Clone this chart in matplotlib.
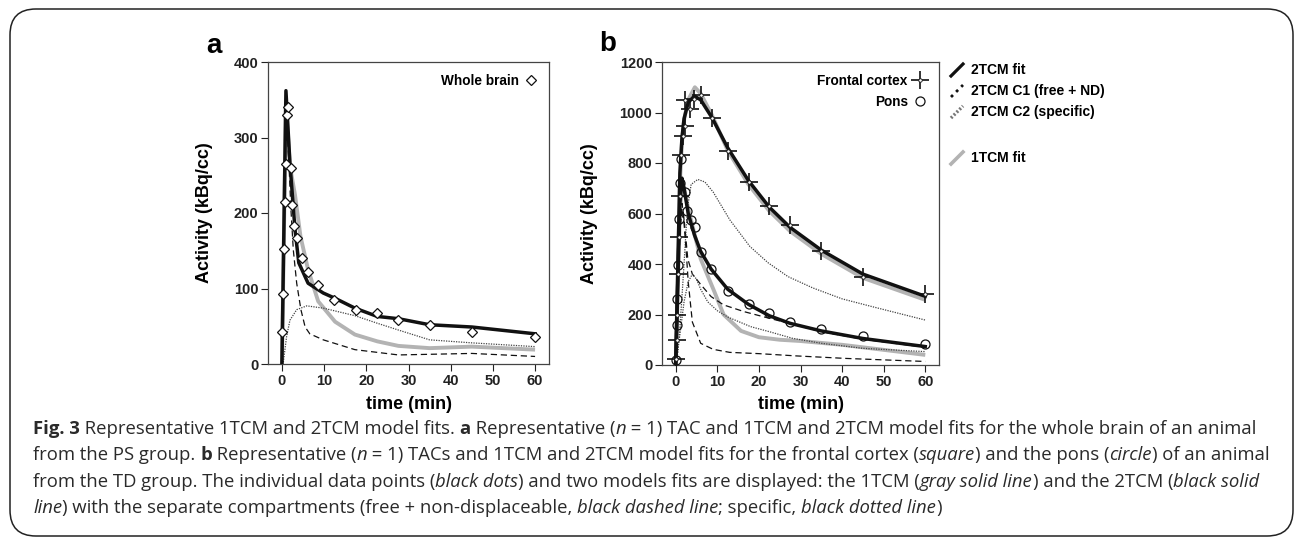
import matplotlib

matplotlib.use("Agg")
import matplotlib.pyplot as plt
from matplotlib.lines import Line2D
from matplotlib.patches import FancyBboxPatch

# --- panel a : whole brain --------------------------------------------------
wb_t = [0.08, 0.3, 0.5, 0.7, 0.9, 1.1, 1.5, 2.05, 2.45, 2.85, 3.6, 4.7, 6.2, 8.6, 12.4,
        17.5, 22.5, 27.5, 35, 45, 60]
wb_y = [42, 93, 152, 214, 265, 330, 340, 260, 211, 183, 167, 141, 122, 105, 85,
        71, 67, 58, 51, 42, 36]

a_fit2_t = [0, 0.95, 1.9, 3.1, 4.0, 6.2, 9.8, 12.6, 17.3, 22.6, 27.6, 35, 45, 60]
a_fit2_y = [0, 362, 266, 178, 134, 107, 94, 87, 74, 63, 60, 52, 49, 40]
a_fit1_t = [0, 0.95, 1.9, 3.1, 4.4, 6.2, 8.6, 12.6, 17.3, 22.6, 27.6, 35, 45, 60]
a_fit1_y = [0, 345, 262, 224, 169, 125, 83, 56, 39, 30, 24, 21, 23, 19]
a_c1_t = [0, 0.95, 1.7, 2.1, 2.7, 3.5, 4.5, 5.5, 6.6, 9.8, 17.3, 27.6, 45, 60]
a_c1_y = [0, 340, 261, 208, 151, 107, 72, 49, 40, 32, 19, 12, 14, 10]
a_c2_t = [0, 0.3, 1.1, 1.9, 3.5, 5.9, 9.8, 17.3, 22.6, 27.6, 35, 45, 60]
a_c2_y = [0, 1, 36, 58, 72, 77, 74, 64, 54, 45, 32, 28, 23]

# --- panel b : frontal cortex and pons --------------------------------------
fc_t = [0.1, 0.25, 0.4, 0.6, 0.8, 1.0, 1.25, 1.75, 2.2, 2.3, 3.4, 4.5, 6.0, 8.7, 12.5,
        17.5, 22.5, 27.5, 35, 45, 60]
fc_y = [25, 100, 200, 360, 505, 668, 830, 908, 948, 1050, 1015, 1052, 1070, 978, 848,
        723, 628, 553, 450, 350, 280]
po_t = [0.1, 0.25, 0.4, 0.6, 0.8, 1.0, 1.25, 2.25, 2.8, 3.6, 4.6, 6.0, 8.6, 12.5,
        17.5, 22.5, 27.5, 35, 45, 60]
po_y = [20, 160, 260, 395, 580, 720, 815, 687, 610, 575, 548, 449, 382, 292,
        240, 207, 170, 141, 116, 82]

fc_fit2_t = [0, 0.5, 1.0, 1.5, 2.0, 3.0, 4.5, 6.0, 8.7, 12.5, 17.5, 22.5, 27.5, 35, 45, 60]
fc_fit2_y = [0, 380, 760, 900, 975, 1040, 1065, 1050, 980, 860, 730, 625, 545, 455, 360, 272]
fc_fit1_t = [0, 0.5, 1.0, 1.5, 2.0, 3.0, 4.6, 6.0, 8.7, 12.5, 17.5, 22.5, 27.5, 35, 45, 60]
fc_fit1_y = [0, 350, 720, 880, 970, 1050, 1100, 1075, 990, 850, 715, 610, 530, 440, 345, 258]
fc_c1_t = [0, 0.5, 1.0, 1.5, 2.0, 2.9, 4.0, 6.1, 8.5, 11.5, 16.5, 22.5, 28, 35, 45, 60]
fc_c1_y = [0, 300, 560, 640, 580, 420, 360, 317, 271, 238, 211, 185, 162, 132, 102, 70]
fc_c2_t = [0, 0.5, 1.0, 1.5, 2.0, 2.5, 3.0, 3.7, 5.3, 7.0, 9.0, 13, 17.8, 22.2, 27, 33, 40, 47.5, 60]
fc_c2_y = [0, 50, 150, 270, 400, 540, 640, 715, 735, 725, 685, 575, 470, 405, 350, 305, 262, 230, 178]

po_fit2_t = [0, 0.5, 1.0, 1.5, 2.0, 3.0, 4.5, 6.0, 8.5, 12.5, 17.5, 22.5, 27.5, 35, 45, 60]
po_fit2_y = [0, 330, 640, 740, 700, 600, 515, 450, 380, 300, 240, 195, 165, 135, 105, 73]
po_fit1_t = [0, 0.5, 1.0, 1.5, 2.0, 3.0, 4.5, 6.0, 9.3, 11.5, 15.7, 20, 25, 30, 40, 50, 60]
po_fit1_y = [0, 300, 600, 720, 700, 620, 520, 420, 290, 200, 135, 110, 100, 95, 80, 60, 40]
po_c1_t = [0, 0.5, 1.0, 1.5, 2.0, 2.5, 3.0, 4.0, 6.0, 9.0, 13, 20, 29, 41, 60]
po_c1_y = [0, 250, 520, 620, 560, 455, 330, 170, 86, 62, 50, 45, 36, 26, 14]
po_c2_t = [0, 1, 2, 3, 4, 5, 6, 7.7, 10, 12.5, 18, 22.5, 28, 35, 45, 60]
po_c2_y = [0, 120, 250, 330, 360, 340, 300, 250, 215, 190, 152, 132, 106, 86, 66, 53]

xticks = [0, 10, 20, 30, 40, 50, 60]

# --- caption ----------------------------------------------------------------
R, B, I = "normal", "bold", "italic"
caption = [
    [("Fig. 3", B), (" Representative 1TCM and 2TCM model fits. ", R), ("a", B),
     (" Representative (", R), ("n", I),
     (" = 1) TAC and 1TCM and 2TCM model fits for the whole brain of an animal", R)],
    [("from the PS group. ", R), ("b", B), (" Representative (", R), ("n", I),
     (" = 1) TACs and 1TCM and 2TCM model fits for the frontal cortex (", R),
     ("square", I), (") and the pons (", R), ("circle", I), (") of an animal", R)],
    [("from the TD group. The individual data points (", R), ("black dots", I),
     (") and two models fits are displayed: the 1TCM (", R), ("gray solid line", I),
     (") and the 2TCM (", R), ("black solid", I)],
    [("line", I), (") with the separate compartments (free + non-displaceable, ", R),
     ("black dashed line", I), ("; specific, ", R), ("black dotted line", I), (")", R)],
]

BLACK = "#111111"
GREY = "#b3b3b3"
W, H = 1296, 541

plt.rcParams.update({
    "font.family": ["Liberation Sans", "DejaVu Sans"],
    "font.weight": "bold",
    "axes.labelweight": "bold",
    "axes.edgecolor": "#444444",
    "axes.linewidth": 0.9,
})

fig = plt.figure(figsize=(W / 100, H / 100), dpi=100)

fig.add_artist(FancyBboxPatch((10 / W, 5 / H), 1283 / W, 527 / H,
                              boxstyle="round,pad=0,rounding_size=0.02",
                              transform=fig.transFigure, fc="none", ec="#222222", lw=1.1,
                              mutation_aspect=W / H))


def style(ax, ymax, ystep):
    ax.set_xlim(-3.3, 63.3)
    ax.set_ylim(0, ymax)
    ax.set_xticks(xticks)
    ax.set_yticks(range(0, ymax + 1, ystep))
    ax.tick_params(direction="out", length=5, width=0.8, labelsize=10.5, pad=2,
                   colors="#222222")
    for lab in ax.get_xticklabels() + ax.get_yticklabels():
        lab.set_fontweight("bold")
    ax.set_xlabel("time (min)", fontsize=13)
    ax.set_ylabel("Activity (kBq/cc)", fontsize=13)


def curves(ax, fit2, fit1, c1, c2):
    ax.plot(*fit1, color=GREY, lw=2.8, zorder=2, solid_capstyle="butt")
    ax.plot(*c1, color=BLACK, lw=0.9, ls=(0, (5, 3)), zorder=3)
    ax.plot(*c2, color="#444444", lw=0.9, ls=(0, (1, 1)), zorder=3)
    ax.plot(*fit2, color=BLACK, lw=2.5, zorder=4)


# panel a
ax = fig.add_axes([268 / W, 1 - 364 / H, 281 / W, 302 / H])
curves(ax, (a_fit2_t, a_fit2_y), (a_fit1_t, a_fit1_y), (a_c1_t, a_c1_y), (a_c2_t, a_c2_y))
ax.plot(wb_t, wb_y, ls="none", marker="D", ms=5, mfc="white", mec=BLACK, mew=0.9, zorder=5)
style(ax, 400, 100)
ax.yaxis.set_label_coords(-0.196, 0.5)
ax.xaxis.set_label_coords(0.5, -0.106)
h = Line2D([], [], ls="none", marker="D", ms=5, mfc="white", mec=BLACK, mew=0.9)
ax.legend([h], ["Whole brain"], loc="upper right", frameon=False, markerfirst=False,
          handlelength=0.8, handletextpad=0.5, borderaxespad=0.5,
          prop={"weight": "bold", "size": 9.8})

# panel b
bx = fig.add_axes([662 / W, 1 - 365 / H, 277 / W, 303 / H])
curves(bx, (fc_fit2_t, fc_fit2_y), (fc_fit1_t, fc_fit1_y), (fc_c1_t, fc_c1_y), (fc_c2_t, fc_c2_y))
curves(bx, (po_fit2_t, po_fit2_y), (po_fit1_t, po_fit1_y), (po_c1_t, po_c1_y), (po_c2_t, po_c2_y))
bx.plot(fc_t, fc_y, ls="none", marker="+", ms=13, mec=BLACK, mew=1.2, zorder=5)
bx.plot(fc_t, fc_y, ls="none", marker="o", ms=2.5, mfc="white", mec=BLACK, mew=0.6, zorder=6)
bx.plot(po_t, po_y, ls="none", marker="o", ms=6.5, mfc="none", mec=BLACK, mew=0.9, zorder=5)
style(bx, 1200, 200)
bx.yaxis.set_label_coords(-0.231, 0.5)
bx.xaxis.set_label_coords(0.5, -0.102)
hc = (Line2D([], [], ls="none", marker="+", ms=13, mec=BLACK, mew=1.2),
      Line2D([], [], ls="none", marker="o", ms=2.5, mfc="white", mec=BLACK, mew=0.6))
hp = Line2D([], [], ls="none", marker="o", ms=6.5, mfc="none", mec=BLACK, mew=0.9)
bx.legend([hc, hp], ["Frontal cortex", "Pons"], loc="upper right", frameon=False,
          markerfirst=False, handlelength=1.0, handletextpad=0.4, borderaxespad=0.5,
          labelspacing=0.5, prop={"weight": "bold", "size": 9.8})

# outside legend for the model lines
key = [("2TCM fit", 70, dict(color=BLACK, lw=2.3)),
       ("2TCM C1 (free + ND)", 91, dict(color=BLACK, lw=2.0, ls=(0, (1, 1.6)))),
       ("2TCM C2 (specific)", 112, dict(color="#777777", lw=2.4, ls=(0, (0.6, 0.6)))),
       ("1TCM fit", 158, dict(color=GREY, lw=2.6))]
for label, yy, kw in key:
    fig.add_artist(Line2D([951 / W, 963 / W], [1 - (yy + 6) / H, 1 - (yy - 6) / H],
                          transform=fig.transFigure, **kw))
    fig.text(971 / W, 1 - yy / H, label, fontsize=10, fontweight="bold", va="center")

fig.text(214 / W, 1 - 46 / H, "a", fontsize=20, fontweight="bold", ha="center", va="center")
fig.text(608 / W, 1 - 44 / H, "b", fontsize=20, fontweight="bold", ha="center", va="center")

# caption, written run by run
cap_family = ["Open Sans", "DejaVu Sans"]
renderer = fig.canvas.get_renderer()


def line_width(runs, size):
    total = 0
    for text, st in runs:
        t = fig.text(0, 0, text, fontsize=size, family=cap_family,
                     fontweight="bold" if st == B else "normal",
                     fontstyle="italic" if st == I else "normal")
        total += t.get_window_extent(renderer).width
        t.remove()
    return total


widest = max(line_width(runs, 12.0) for runs in caption)
size = 12.0 * 1232 / widest
for k, runs in enumerate(caption):
    x = 33
    y = 1 - (429 + 26.3 * k) / H
    for text, st in runs:
        t = fig.text(x / W, y, text, fontsize=size, family=cap_family, va="center",
                     color="#2a2a2a",
                     fontweight="bold" if st == B else "normal",
                     fontstyle="italic" if st == I else "normal")
        x += t.get_window_extent(renderer).width

fig.savefig("out.png", dpi=100)
